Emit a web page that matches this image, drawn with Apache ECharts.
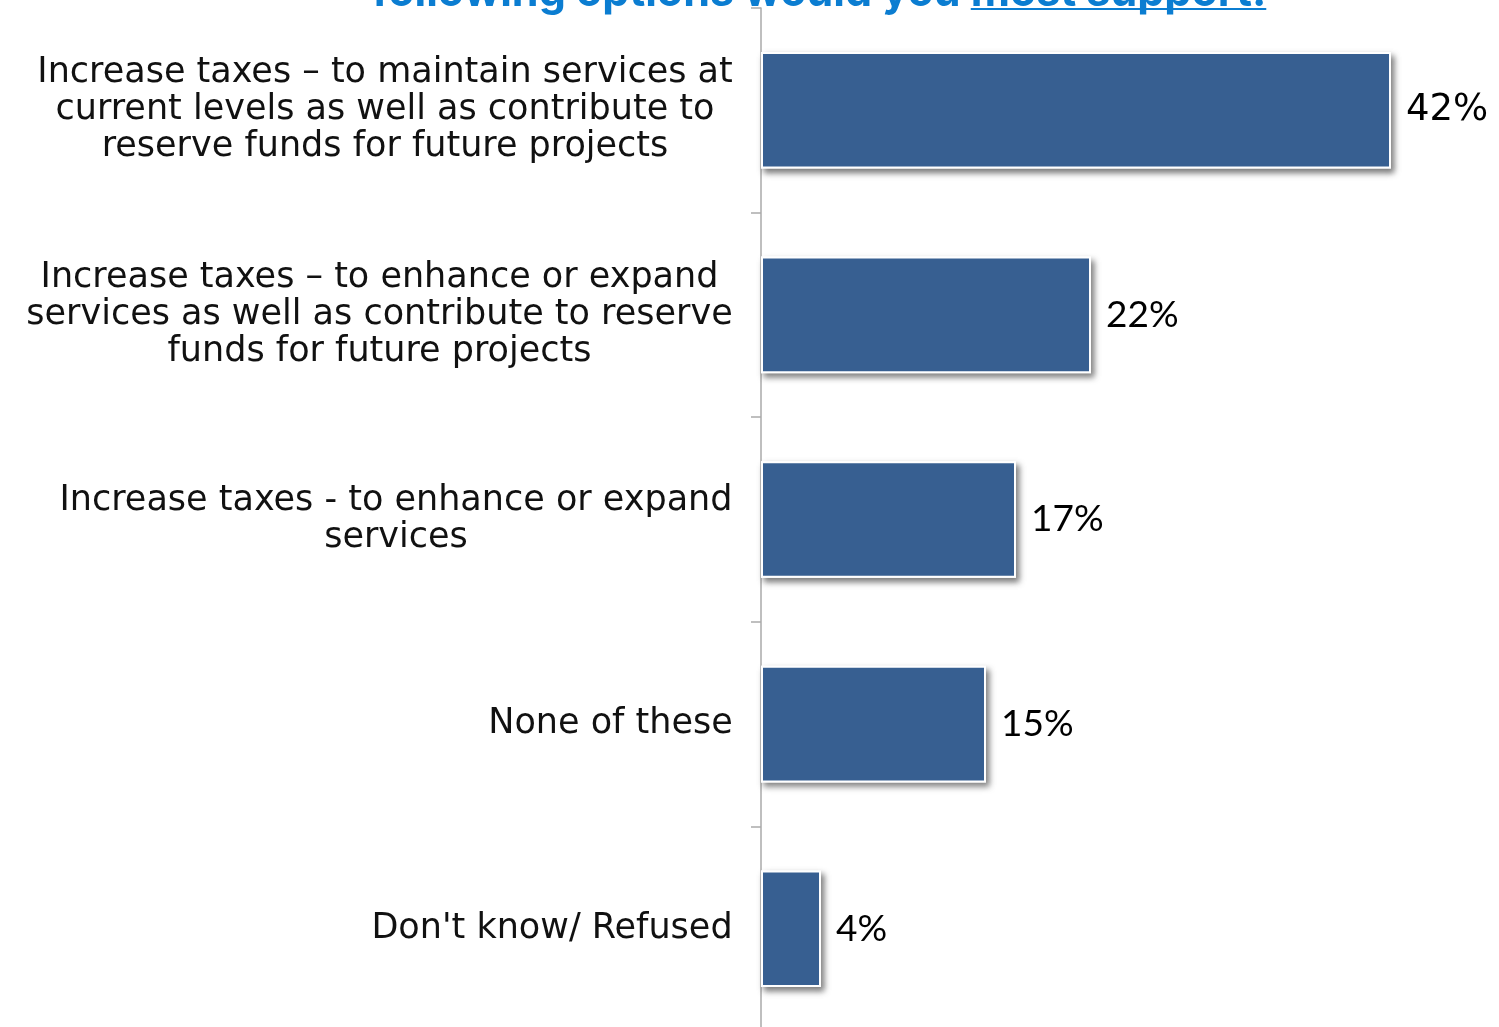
<!DOCTYPE html>
<html>
<head>
<meta charset="utf-8">
<script src="https://cdn.jsdelivr.net/npm/echarts@6/dist/echarts.min.js"></script>
<style>
  html, body { margin: 0; padding: 0; background: #fff; overflow: hidden; }
  /* the last category band runs slightly past the visible page edge */
  #chart { width: 1499px; height: 1031px; }
</style>
</head>
<body>
<div id="chart"></div>
<script>
// Survey options, top to bottom
const categories = [
  'Increase taxes \u2013 to maintain services at\ncurrent levels as well as contribute to\nreserve funds for future projects',
  'Increase taxes \u2013 to enhance or expand\nservices as well as contribute to reserve\nfunds for future projects',
  'Increase taxes - to enhance or expand\nservices',
  'None of these',
  "Don't know/ Refused"
];
// Share of respondents (%)
const values = [42, 22, 17, 15, 4];

const titleLead = 'following options would you ';
const titleEmph = 'most support.';

const catFont = 'DejaVu Sans';
const catSize = 35;
const titleFontSpec = 'bold 43px Inter';

// width of a text run in a given CSS font
const ctx = document.createElement('canvas').getContext('2d');
function textWidth(str, font) {
  ctx.font = font;
  return ctx.measureText(str).width;
}

// each label block is as wide as its longest line; lines are centred inside it
const rich = {};
categories.forEach((c, i) => {
  const w = Math.max(...c.split('\n').map(l => textWidth(l, catSize + 'px "' + catFont + '"')));
  rich['c' + i] = {
    width: Math.ceil(w),
    align: 'center',
    fontFamily: catFont,
    fontSize: catSize,
    lineHeight: 37,
    color: '#111'
  };
});

const chart = echarts.init(document.getElementById('chart'), null, { renderer: 'canvas' });

const titleX = 372;
const leadW = textWidth(titleLead, titleFontSpec);
const emphW = textWidth(titleEmph, titleFontSpec);

const barColor = '#375f91';

chart.setOption({
  animation: false,
  backgroundColor: '#ffffff',
  grid: { left: 761, width: 675, top: 8, bottom: 0, containLabel: false },
  xAxis: {
    type: 'value',
    min: 0,
    max: 45,
    show: false
  },
  yAxis: {
    type: 'category',
    inverse: true,
    data: categories,
    axisLine: { show: true, lineStyle: { color: '#aaaaaa', width: 1.5 } },
    axisTick: { show: true, length: 10, lineStyle: { color: '#aaaaaa', width: 1.5 } },
    axisLabel: {
      margin: 28,
      align: 'right',
      formatter: (v) => {
        const i = categories.indexOf(v);
        return '{c' + i + '|' + v + '}';
      },
      rich: rich
    },
    splitLine: { show: false }
  },
  series: [
    {
      // drop shadow layer
      type: 'bar',
      data: values,
      barWidth: '57%',
      z: 1,
      silent: true,
      itemStyle: {
        color: barColor,
        borderColor: '#ffffff',
        borderWidth: 2,
        shadowColor: 'rgba(0,0,0,0.5)',
        shadowBlur: 6,
        shadowOffsetX: 3,
        shadowOffsetY: 4
      }
    },
    {
      // bars on top, white outline, value labels
      type: 'bar',
      data: values.map((v, i) => i === 0
        ? { value: v, label: { fontFamily: catFont, fontSize: 37 } }
        : v),
      barWidth: '57%',
      barGap: '-100%',
      z: 2,
      itemStyle: {
        color: barColor,
        borderColor: '#ffffff',
        borderWidth: 2
      },
      label: {
        show: true,
        position: 'right',
        distance: 15,
        formatter: '{c}%',
        fontFamily: 'Lato',
        fontSize: 37,
        color: '#000'
      }
    }
  ],
  graphic: [
    {
      type: 'text',
      z: 10,
      style: {
        x: titleX,
        y: 15,
        text: titleLead + titleEmph,
        font: titleFontSpec,
        fill: '#0b7dd1',
        verticalAlign: 'bottom'
      }
    },
    {
      type: 'line',
      z: 10,
      shape: { x1: titleX + leadW, y1: 9, x2: titleX + leadW + emphW, y2: 9 },
      style: { stroke: '#0b7dd1', lineWidth: 2 }
    }
  ]
});
</script>
</body>
</html>
